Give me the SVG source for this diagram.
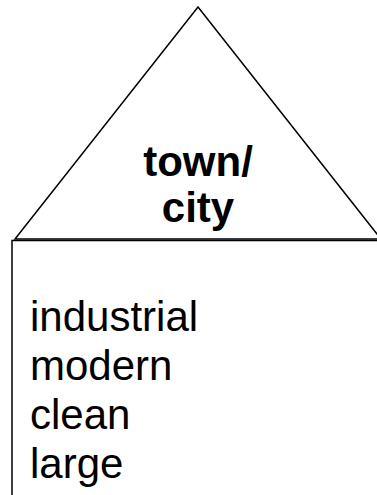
<svg xmlns="http://www.w3.org/2000/svg" width="377" height="495" viewBox="0 0 377 495">
<style>
.shape{fill:#fff;stroke:#000;stroke-width:1.5}
.title{font-family:"Liberation Sans",Arial,sans-serif;font-weight:bold;font-size:42px;fill:#000;text-anchor:middle}
.item{font-family:"Liberation Sans",Arial,sans-serif;font-size:42px;fill:#000}
</style>
<rect width="377" height="495" fill="#fff"/>
<g id="roof">
<polygon class="shape" points="198,7 15,239 381,239"/>
<text class="title" x="198" y="176">town/</text>
<text class="title" x="198" y="222">city</text>
</g>
<g id="body">
<rect class="shape" x="12" y="240.5" width="380" height="270"/>
<text class="item" x="30" y="331">industrial</text>
<text class="item" x="30" y="380">modern</text>
<text class="item" x="30" y="429">clean</text>
<text class="item" x="30" y="478">large</text>
</g>
<g id="connectors"/>
</svg>
